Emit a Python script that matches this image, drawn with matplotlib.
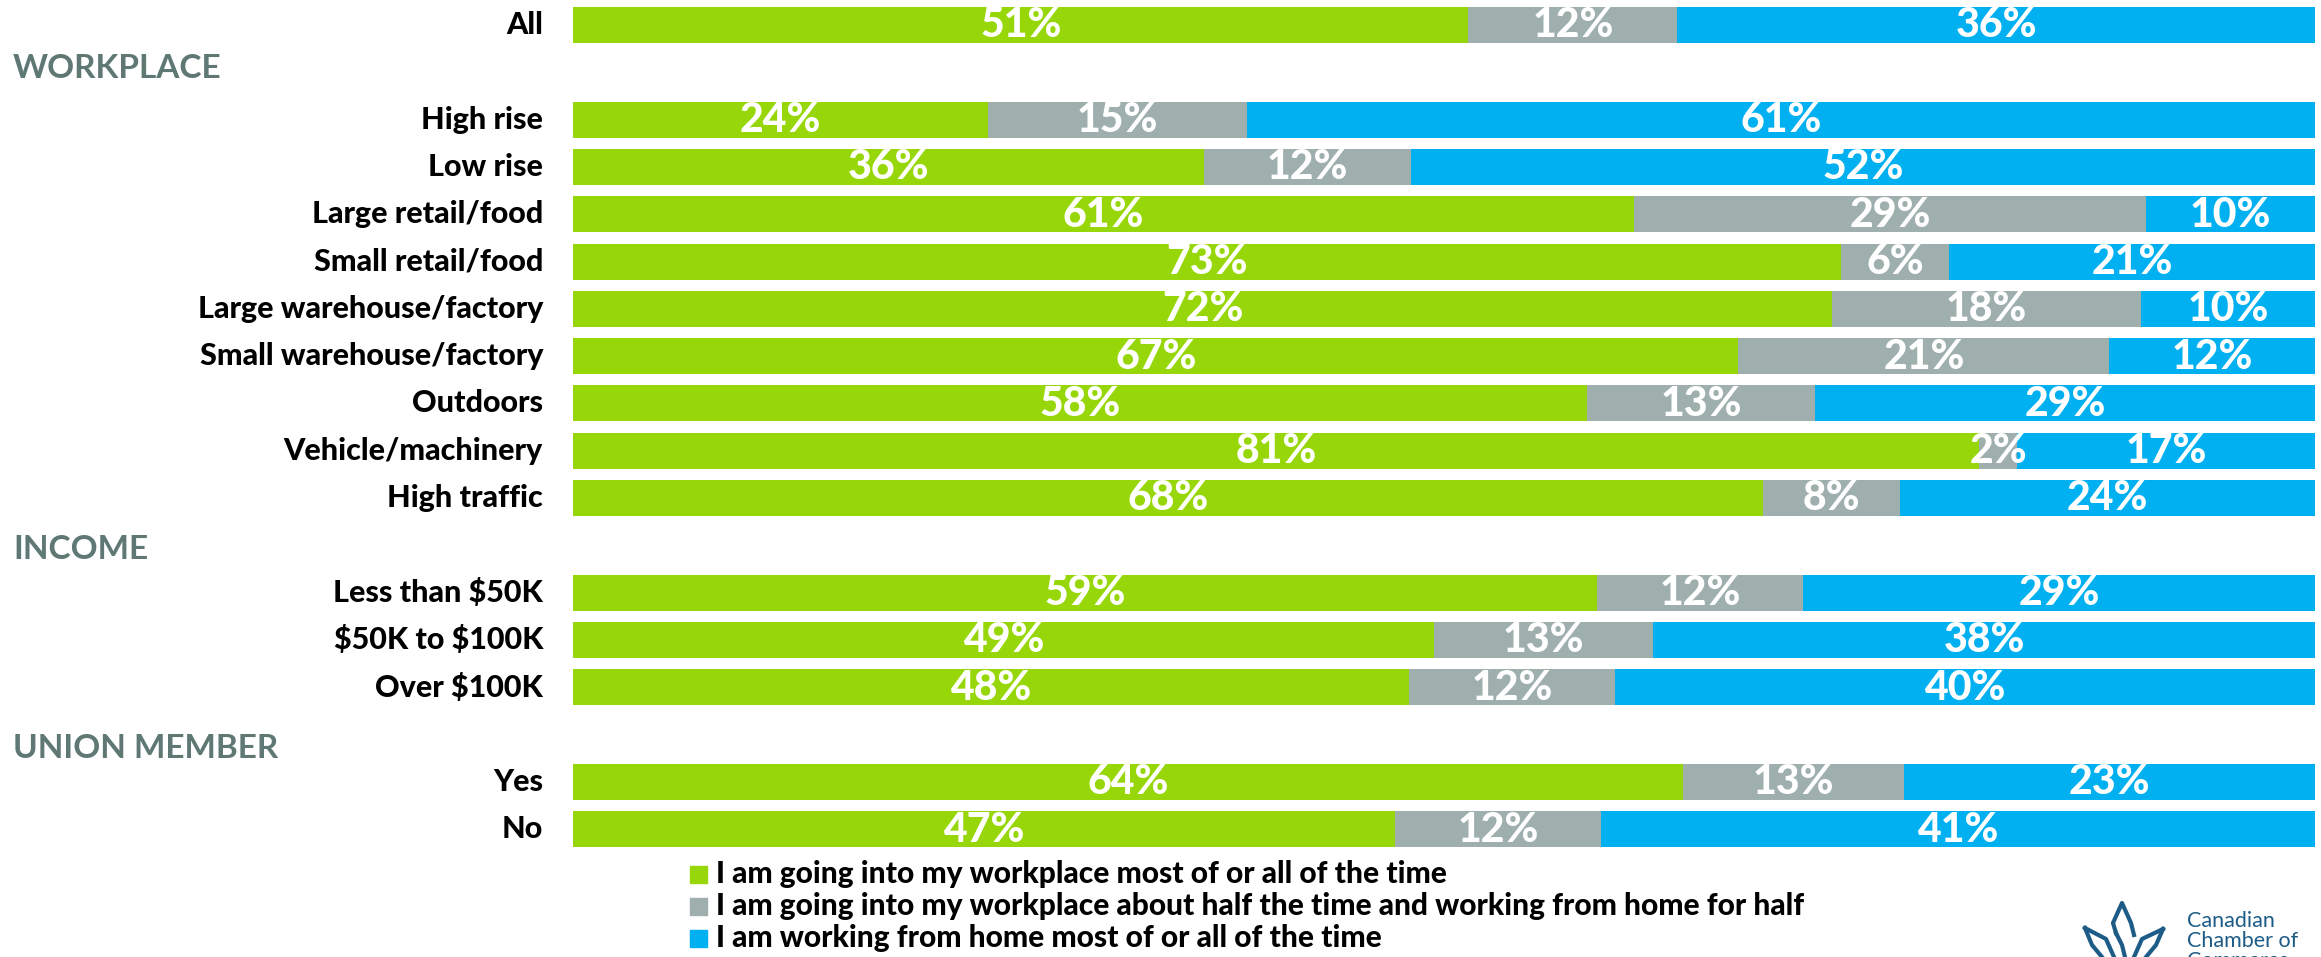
import matplotlib
matplotlib.use("Agg")
import matplotlib.pyplot as plt
from matplotlib.patches import Rectangle
import matplotlib.transforms as mtransforms
from matplotlib import font_manager as fm

plt.rcParams["text.parse_math"] = False

# ---- data ----
categories = ["All",
              "High rise", "Low rise", "Large retail/food", "Small retail/food",
              "Large warehouse/factory", "Small warehouse/factory", "Outdoors",
              "Vehicle/machinery", "High traffic",
              "Less than $50K", "$50K to $100K", "Over $100K",
              "Yes", "No"]
row_pos = [0, 2, 3, 4, 5, 6, 7, 8, 9, 10, 12, 13, 14, 16, 17]

# segment shares as drawn
office = [51.4, 23.8, 36.2, 60.9, 72.8, 72.3, 66.9, 58.2, 80.7, 68.3, 58.8, 49.4, 48.0, 63.7, 47.2]
half   = [12.0, 14.9, 11.9, 29.4,  6.2, 17.7, 21.3, 13.1,  2.2,  7.9, 11.8, 12.6, 11.8, 12.7, 11.8]
home   = [36.6, 61.3, 51.9,  9.7, 21.0, 10.0, 11.8, 28.7, 17.1, 23.8, 29.4, 38.0, 40.2, 23.6, 41.0]

# printed labels
office_lbl = [51, 24, 36, 61, 73, 72, 67, 58, 81, 68, 59, 49, 48, 64, 47]
half_lbl   = [12, 15, 12, 29,  6, 18, 21, 13,  2,  8, 12, 13, 12, 13, 12]
home_lbl   = [36, 61, 52, 10, 21, 10, 12, 29, 17, 24, 29, 38, 40, 23, 41]

groups = ["WORKPLACE", "INCOME", "UNION MEMBER"]
group_pos = [0.91, 11.08, 15.3]

series_names = ["I am going into my workplace most of or all of the time",
                "I am going into my workplace about half the time and working from home for half",
                "I am working from home most of or all of the time"]
colors = ["#97d70a", "#9eafad", "#00b0f0"]


def heavy_font():
    for fam in ["Lato", "Roboto", "Open Sans", "Noto Sans"]:
        try:
            p = fm.findfont(fm.FontProperties(family=fam, weight=900), fallback_to_default=False)
        except Exception:
            continue
        name = p.lower()
        if "black" in name or "heavy" in name or "extrabold" in name:
            return fm.FontProperties(fname=p)
    return fm.FontProperties(family="Lato", weight="bold")


HEAVY = heavy_font()

# ---- figure ----
W, H = 2321, 957
fig = plt.figure(figsize=(W / 100, H / 100), dpi=100)
step = 47.3
top_c = 25.0
ax = fig.add_axes([573 / W, 0, (2315 - 573) / W, 1])
ax.set_xlim(0, 100)
ax.set_ylim((H - top_c) / step, -top_c / step)
ax.axis("off")

bar_h = 36 / step
lefts = [0] * len(categories)
for vals, lbls, col in zip([office, half, home], [office_lbl, half_lbl, home_lbl], colors):
    bars = ax.barh(row_pos, vals, left=lefts, height=bar_h, color=col, edgecolor="none")
    for b, l in zip(bars, lbls):
        cx = b.get_x() + b.get_width() / 2
        ax.text(cx, b.get_y() + b.get_height() / 2 + 0.01, f"{l}%", ha="center", va="center",
                fontproperties=HEAVY, size=29.5, color="white")
    lefts = [a + v for a, v in zip(lefts, vals)]

# category labels
trans_lbl = mtransforms.blended_transform_factory(fig.transFigure, ax.transData)
for c, p in zip(categories, row_pos):
    ax.text(543 / W, p, c, transform=trans_lbl, ha="right", va="center",
            fontproperties=HEAVY, size=22, color="black")

# group headers
for g, p in zip(groups, group_pos):
    ax.text(13 / W, p, g, transform=trans_lbl, ha="left", va="center",
            family="Lato", weight="bold", size=24, color="#5f7874")

# legend
leg_y = [874, 906, 938]
for name, col, y in zip(series_names, colors, leg_y):
    fig.patches.append(Rectangle((690 / W, 1 - (y + 9) / H), 17 / W, 17 / H,
                                 transform=fig.transFigure, color=col))
    fig.text(716 / W, 1 - y / H, name, ha="left", va="center",
             fontproperties=HEAVY, size=21.5, color="black")

# logo (decorative)
logo_col = "#1d5c86"
for i, t in enumerate(["Canadian", "Chamber of", "Commerce"]):
    fig.text(2187 / W, 1 - (927 + 20 * i) / H, t, ha="left", va="baseline",
             family="Lato", size=15.5, color=logo_col)
lax = fig.add_axes([2070 / W, 0, 110 / W, 80 / H])
lax.set_xlim(0, 110); lax.set_ylim(80, 0); lax.axis("off")
lw = 3
lax.plot([46, 43, 52, 61, 64], [56, 46, 26, 46, 58], color=logo_col, lw=lw)
lax.plot([15, 36, 44], [51, 62, 80], color=logo_col, lw=lw)
lax.plot([15, 22, 32], [51, 68, 80], color=logo_col, lw=lw)
lax.plot([93, 72, 64], [52, 62, 80], color=logo_col, lw=lw)
lax.plot([93, 86, 76], [52, 68, 80], color=logo_col, lw=lw)
lax.plot([46, 52, 55], [56, 68, 80], color=logo_col, lw=lw)

fig.savefig("out.png", dpi=100)
